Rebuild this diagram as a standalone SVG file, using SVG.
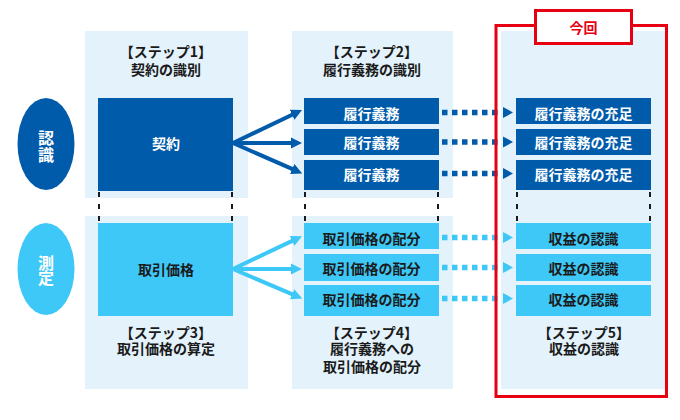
<svg xmlns="http://www.w3.org/2000/svg" width="680" height="420" viewBox="0 0 680 420">
<style>
text{font-family:"Noto Sans CJK JP","Noto Sans",sans-serif;font-weight:700;text-anchor:middle;dominant-baseline:central}
.h{font-size:14px;fill:#1a1a1a}
.bt{font-size:14px}
.w{fill:#ffffff}
.k{fill:#1a1a1a}
.panel{fill:#e3f2fb}
.dk{fill:#005bab}
.lt{fill:#3ec8f8}
.dash{stroke:#1a1a1a;stroke-width:2;stroke-dasharray:5 7;fill:none}
.sd{stroke:#005bab;stroke-width:4;fill:none}
.sl{stroke:#3ec8f8;stroke-width:4;fill:none}
.dd{stroke:#005bab;stroke-width:5.5;stroke-dasharray:5.5 4.5;fill:none}
.dl{stroke:#3ec8f8;stroke-width:5.5;stroke-dasharray:5.5 4.5;fill:none}
.red{fill:none;stroke:#e60012;stroke-width:3}
</style>
<defs>
<marker id="ad" markerUnits="userSpaceOnUse" markerWidth="12" markerHeight="12" viewBox="0 0 12 12" refX="3" refY="6" orient="auto"><path d="M0,0.5 L11,6 L0,11.5 z" fill="#005bab"/></marker>
<marker id="al" markerUnits="userSpaceOnUse" markerWidth="12" markerHeight="12" viewBox="0 0 12 12" refX="3" refY="6" orient="auto"><path d="M0,0.5 L11,6 L0,11.5 z" fill="#3ec8f8"/></marker>
</defs>
<rect width="680" height="420" fill="#ffffff"/>

<g id="panels">
<rect class="panel" x="85" y="31" width="163" height="167"/>
<rect class="panel" x="85" y="216" width="163" height="173"/>
<rect class="panel" x="292" y="31" width="161" height="167"/>
<rect class="panel" x="292" y="216" width="161" height="173"/>
<rect class="panel" x="501" y="31" width="164" height="358"/>
</g>

<g id="labels">
<text class="h" x="166" y="50.5"><tspan x="166" y="50.5">【ステップ1】</tspan><tspan x="166" y="69">契約の識別</tspan></text>
<text class="h" x="372" y="50.5"><tspan x="372" y="50.5">【ステップ2】</tspan><tspan x="372" y="69">履行義務の識別</tspan></text>
<text class="h" x="166" y="331.5"><tspan x="166" y="331.5">【ステップ3】</tspan><tspan x="166" y="348">取引価格の算定</tspan></text>
<text class="h" x="372" y="331.5"><tspan x="372" y="331.5">【ステップ4】</tspan><tspan x="372" y="348">履行義務への</tspan><tspan x="372" y="365.5">取引価格の配分</tspan></text>
<text class="h" x="584" y="331.5"><tspan x="584" y="331.5">【ステップ5】</tspan><tspan x="584" y="348">収益の認識</tspan></text>
</g>

<g id="ninshiki">
<ellipse cx="46" cy="144" rx="28.5" ry="46" fill="#005bab"/>
<text class="w" x="46" y="136.5" font-size="16"><tspan x="46" y="136.5">認</tspan><tspan x="46" y="153.5">識</tspan></text>
</g>
<g id="sokutei">
<ellipse cx="46" cy="269" rx="28.5" ry="46" fill="#3ec8f8"/>
<text class="w" x="46" y="261.5" font-size="16"><tspan x="46" y="261.5">測</tspan><tspan x="46" y="277">定</tspan></text>
</g>

<g id="keiyaku">
<rect class="dk" x="98" y="98" width="135" height="93"/>
<text class="bt w" x="166" y="143">契約</text>
</g>
<g id="torihiki-kakaku">
<rect class="lt" x="98" y="223" width="135" height="93"/>
<text class="bt k" x="166" y="269">取引価格</text>
</g>

<g id="rikou-1"><rect class="dk" x="304" y="98" width="135" height="26"/><text class="bt w" x="371.5" y="112.5">履行義務</text></g>
<g id="rikou-2"><rect class="dk" x="304" y="129" width="135" height="26"/><text class="bt w" x="371.5" y="142">履行義務</text></g>
<g id="rikou-3"><rect class="dk" x="304" y="160" width="135" height="30"/><text class="bt w" x="371.5" y="173.5">履行義務</text></g>

<g id="haibun-1"><rect class="lt" x="304" y="223" width="135" height="26"/><text class="bt k" x="371.5" y="237.5">取引価格の配分</text></g>
<g id="haibun-2"><rect class="lt" x="304" y="254" width="135" height="27"/><text class="bt k" x="371.5" y="267.5">取引価格の配分</text></g>
<g id="haibun-3"><rect class="lt" x="304" y="285" width="135" height="31"/><text class="bt k" x="371.5" y="298.5">取引価格の配分</text></g>

<g id="juusoku-1"><rect class="dk" x="516" y="98" width="135" height="26"/><text class="bt w" x="583.5" y="112.5">履行義務の充足</text></g>
<g id="juusoku-2"><rect class="dk" x="516" y="129" width="135" height="26"/><text class="bt w" x="583.5" y="142">履行義務の充足</text></g>
<g id="juusoku-3"><rect class="dk" x="516" y="160" width="135" height="30"/><text class="bt w" x="583.5" y="173.5">履行義務の充足</text></g>

<g id="ninshiki-1"><rect class="lt" x="516" y="223" width="135" height="26"/><text class="bt k" x="583.5" y="237.5">収益の認識</text></g>
<g id="ninshiki-2"><rect class="lt" x="516" y="254" width="135" height="27"/><text class="bt k" x="583.5" y="267.5">収益の認識</text></g>
<g id="ninshiki-3"><rect class="lt" x="516" y="285" width="135" height="31"/><text class="bt k" x="583.5" y="298.5">収益の認識</text></g>

<g id="connectors">
<line class="dash" x1="99" y1="192" x2="99" y2="223"/>
<line class="dash" x1="232" y1="192" x2="232" y2="223"/>
<line class="dash" x1="305" y1="192" x2="305" y2="223"/>
<line class="dash" x1="438" y1="192" x2="438" y2="223"/>
<line class="dash" x1="517" y1="192" x2="517" y2="223"/>
<line class="dash" x1="650" y1="192" x2="650" y2="223"/>

<line class="sd" x1="233" y1="143" x2="294.8" y2="113.5" marker-end="url(#ad)"/>
<line class="sd" x1="233" y1="143" x2="294" y2="143" marker-end="url(#ad)"/>
<line class="sd" x1="233" y1="143" x2="294.9" y2="170.2" marker-end="url(#ad)"/>

<line class="sl" x1="233" y1="269" x2="294.8" y2="239.6" marker-end="url(#al)"/>
<line class="sl" x1="233" y1="269" x2="294" y2="269" marker-end="url(#al)"/>
<line class="sl" x1="233" y1="269" x2="294.9" y2="295.4" marker-end="url(#al)"/>

<line class="dd" x1="442" y1="112.5" x2="498" y2="112.5"/>
<path d="M503,107 L513,112.5 L503,118 z" fill="#005bab"/>
<line class="dd" x1="442" y1="142" x2="498" y2="142"/>
<path d="M503,136.5 L513,142 L503,147.5 z" fill="#005bab"/>
<line class="dd" x1="442" y1="173.5" x2="498" y2="173.5"/>
<path d="M503,168 L513,173.5 L503,179 z" fill="#005bab"/>

<line class="dl" x1="442" y1="237.5" x2="498" y2="237.5"/>
<path d="M503,232 L513,237.5 L503,243 z" fill="#3ec8f8"/>
<line class="dl" x1="442" y1="267.5" x2="498" y2="267.5"/>
<path d="M503,262 L513,267.5 L503,273 z" fill="#3ec8f8"/>
<line class="dl" x1="442" y1="298.5" x2="498" y2="298.5"/>
<path d="M503,293 L513,298.5 L503,304 z" fill="#3ec8f8"/>
</g>

<g id="konkai-frame">
<rect class="red" x="496" y="25.5" width="170.5" height="371"/>
<rect x="535.5" y="10.5" width="96" height="33" fill="#ffffff" stroke="#e60012" stroke-width="3"/>
<text x="583.5" y="27" font-size="14" fill="#e60012">今回</text>
</g>
</svg>
